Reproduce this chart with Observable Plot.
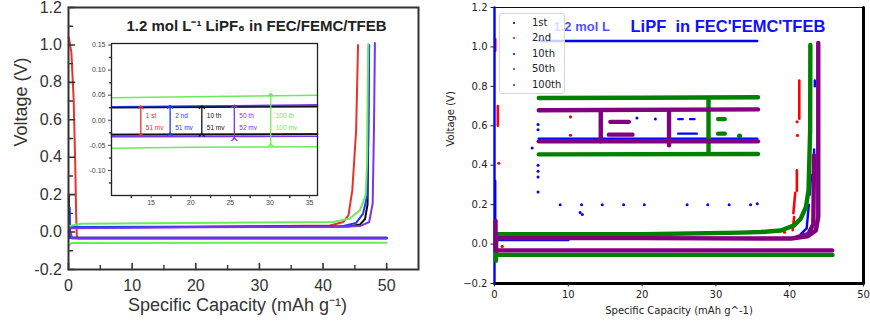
<!DOCTYPE html>
<html><head><meta charset="utf-8">
<script src="https://cdn.jsdelivr.net/npm/d3@7"></script>
<script src="https://cdn.jsdelivr.net/npm/@observablehq/plot@0.6"></script>
<style>
html,body{margin:0;padding:0;background:#fff;}
#root{position:relative;width:870px;height:323px;overflow:hidden;background:#fff;}
.abs{position:absolute;}
</style></head><body><div id="root"></div>
<script>
// ================= DATA =================
// ---- left panel (published figure): cycles and polylines (x: mAh/g, y: V)
const leftCycles = ["1 st", "2 nd", "10 th", "50 th", "100 th"];
const leftCycle1 = [
  [[0.05,1.04],[0.45,0.96],[0.8,0.72],[1.05,0.38],[1.2,0.1],[1.3,-0.02],[1.5,-0.035],[50,-0.035]],
  [[0.3,0.025],[20,0.027],[41.1,0.035],[43.2,0.054],[44.0,0.09],[44.6,0.224],[45.2,0.544],[45.5,1.0]]
];
const leftCycle2 = [
  [[0.2,0.13],[0.25,-0.03],[50,-0.03]],
  [[0.3,0.027],[43.2,0.032],[45.2,0.049],[46.3,0.099],[46.9,0.19],[47.1,0.5],[47.25,1.0]]
];
const leftCycle10 = [
  [[0.05,0.2],[0.1,-0.03],[50,-0.031]],
  [[0.3,0.026],[44,0.03],[45.8,0.04],[46.6,0.07],[47.0,0.15],[47.1,0.5],[47.2,0.98]]
];
const leftCycle50 = [
  [[0.3,0.0],[0.6,-0.035],[50,-0.034]],
  [[0.2,0.02],[20,0.026],[42.7,0.028],[45.8,0.032],[47.25,0.054],[47.8,0.153],[48.0,0.544],[48.15,1.01]]
];
const leftCycle100 = [
  [[0.1,-0.07],[0.5,-0.058],[50,-0.057]],
  [[0.1,0.033],[2,0.045],[41.6,0.054],[44.2,0.072],[45.8,0.117],[46.7,0.197],[46.9,0.366],[47.1,1.004]]
];
const leftXTicks = [0, 10, 20, 30, 40, 50];
const leftXMinor = [5, 15, 25, 35, 45];
const leftYTicks = [-0.2, 0, 0.2, 0.4, 0.6, 0.8, 1.0, 1.2];
const leftYMinor = [-0.1, 0.1, 0.3, 0.5, 0.7, 0.9, 1.1];
const leftTitle = "1.2 mol L\u207B\u00B9 LiPF\u2086 in FEC/FEMC/TFEB";
const leftXLabel = "Specific Capacity (mAh g\u207B\u00B9)";
const leftYLabel = "Voltage (V)";

// ---- inset (zoom of the plateau)
const insetCycle1 = [[[10,0.027],[36,0.029]], [[10,-0.029],[36,-0.028]]];
const insetCycle2 = [[[10,0.027],[36,0.028]], [[10,-0.028],[36,-0.027]]];
const insetCycle10 = [[[10,0.025],[36,0.027]], [[10,-0.029],[36,-0.028]]];
const insetCycle50 = [[[10,0.026],[36,0.031]], [[10,-0.033],[36,-0.032]]];
const insetCycle100 = [[[10,0.045],[20,0.047],[36,0.05]], [[10,-0.056],[20,-0.054],[36,-0.053]]];
const insetGapLabels = ["51 mv", "51 mv", "51 mv", "52 mv", "100 mv"];
const insetArrowX = [13.7, 17.4, 21.4, 25.5, 30.1];
const insetArrowLow = [-0.029, -0.028, -0.029, -0.038, -0.05];
const insetArrowHigh = [0.026, 0.027, 0.026, 0.028, 0.051];
const insetXTicks = [15, 20, 25, 30, 35];
const insetXMinor = [12.5, 17.5, 22.5, 27.5, 32.5];
const insetYTicks = [-0.10, -0.05, 0, 0.05, 0.10, 0.15];
const insetYMinor = [-0.125, -0.075, -0.025, 0.025, 0.075, 0.125];

// ---- right panel (digitized scatter): series and traced point runs
const rightSeries = ["1st", "2nd", "10th", "50th", "100th"];
const right1st = [
  [[0,-0.2],[50,-0.2],[50,1.2]]
];
const right2nd = [
  [[0.1,1.04],[0.1,0.98]], [[0.45,0.70],[0.45,0.60]], [[0.58,0.41]], [[1.04,-0.012]],
  [[10.3,0.645]], [[10.3,0.552]],
  [[41.3,0.83],[41.3,0.636]], [[41.0,0.62]], [[41.05,0.551]],
  [[40.97,0.374],[40.97,0.27]], [[40.75,0.26],[40.5,0.157]], [[40.6,0.137],[40.4,0.07]], [[39.3,0.06]]
];
const right10th = [
  [[0,-0.2],[0,1.2]], [[0.1,0.32],[0.1,0.0]],
  [[6,1.03],[35.6,1.03]], [[6,0.535],[35.6,0.535]], [[0.5,0.02],[10,0.02]],
  [[41.5,0.05],[42.3,0.08],[42.6,0.2]], [[42.7,0.25],[42.9,0.35]], [[43.3,0.42],[43.3,0.48]], [[43.4,0.8],[43.4,0.83]],
  [[5.9,0.606]], [[5.9,0.58]], [[5.9,0.40]], [[5.9,0.37]], [[5.9,0.34]], [[5.9,0.264]], [[5.1,0.487]],
  [[8.9,0.2]], [[11.8,0.2]], [[14.6,0.2]], [[17.5,0.2]], [[20.3,0.2]], [[26.1,0.2]], [[28.9,0.2]],
  [[31.8,0.2]], [[34.7,0.2]], [[35.6,0.205]], [[11.6,0.16]], [[11.9,0.15]],
  [[19.3,0.64]], [[21.8,0.634]], [[14.4,0.65],[14.4,0.55]],
  [[24.9,0.634],[25.5,0.634]], [[26.5,0.634],[27.1,0.634]], [[24.9,0.56],[27.4,0.56]]
];
const right50th = [
  [[6,0.741],[20,0.742],[35.7,0.745]], [[6,0.455],[35.7,0.457]], [[29,0.741],[29,0.46]],
  [[0.2,-0.085],[0.25,0.05]],
  [[0.3,0.05],[20,0.05],[33.4,0.058],[36.1,0.061],[38.8,0.069],[40.6,0.095],[41.5,0.129],[42.2,0.188],[42.55,0.273],[42.77,0.577],[42.8,1.01]],
  [[0.5,-0.055],[45.8,-0.055]],
  [[30.3,0.634],[31.2,0.634]], [[30.3,0.56],[31.2,0.56]], [[33.2,0.548]]
];
const right100th = [
  [[6,0.679],[35.7,0.683]], [[6,0.521],[35.7,0.521]], [[14.4,0.679],[14.4,0.521]], [[23.65,0.679],[23.65,0.501]],
  [[0.14,0.117],[0.14,-0.032]],
  [[0.3,0.03],[20,0.03],[40.2,0.028],[42.4,0.039],[43.55,0.069],[43.87,0.137],[43.87,1.02]],
  [[41,0.035],[42.5,0.05],[43.2,0.1],[43.3,0.45]],
  [[0.3,-0.032],[45.75,-0.032]],
  [[15.7,0.62],[18.2,0.62]], [[15.5,0.555],[18.7,0.555]]
];
const rightXTicks = [0, 10, 20, 30, 40, 50];
const rightYTicks = [-0.2, 0, 0.2, 0.4, 0.6, 0.8, 1.0, 1.2];
const rightTitle = "LiPF  in FEC'FEMC'TFEB";
const rightTitleLead = "1.2 mol L";
const rightXLabel = "Specific Capacity (mAh g^-1)";
const rightYLabel = "Voltage (V)";

// ================= HELPERS =================
function rowsOf(polys) {
  const out = [];
  polys.forEach((p, i) => p.forEach(([x, y]) => out.push({seg: i, x, y, n: p.length})));
  return out;
}
function trace(polys, color, width) {
  const r = rowsOf(polys);
  return [
    Plot.line(r.filter(d => d.n > 1), {x: "x", y: "y", z: "seg", stroke: color, strokeWidth: width, strokeLinecap: "round", strokeLinejoin: "round"}),
    Plot.dot(r.filter(d => d.n === 1), {x: "x", y: "y", r: width / 2 + 0.3, fill: color, stroke: "none"})
  ];
}
const tickUp = {draw(ctx, l) { ctx.moveTo(0, 0); ctx.lineTo(0, -l); }};
const tickIn = {draw(ctx, l) { ctx.moveTo(0, 0); ctx.lineTo(l, 0); }};
const tickDown = {draw(ctx, l) { ctx.moveTo(0, 0); ctx.lineTo(0, l); }};
const tickOut = {draw(ctx, l) { ctx.moveTo(0, 0); ctx.lineTo(-l, 0); }};

const root = document.getElementById("root");
const sansL = "'Liberation Sans', Arial, sans-serif";

// ================= LEFT PANEL =================
const leftColor = ["#e8322c", "#2238f0", "#111111", "#7a34ee", "#6cea5c"];
const leftPlot = Plot.plot({
  width: 435, height: 323,
  marginLeft: 68, marginRight: 17, marginTop: 7, marginBottom: 54,
  x: {domain: [0, 55]}, y: {domain: [-0.2, 1.2]},
  style: {fontFamily: sansL, color: "#333", background: "white", overflow: "visible"},
  marks: [
    ...trace(leftCycle1, leftColor[0], 2),
    ...trace(leftCycle10, leftColor[2], 2),
    ...trace(leftCycle2, leftColor[1], 2),
    ...trace(leftCycle100, leftColor[4], 2),
    ...trace(leftCycle50, leftColor[3], 2),
    Plot.frame({stroke: "#333", strokeWidth: 2}),
    Plot.vector(leftXTicks, {x: d => d, frameAnchor: "bottom", length: 6, shape: tickUp, anchor: "start", stroke: "#333", strokeWidth: 1.6}),
    Plot.vector(leftXMinor, {x: d => d, frameAnchor: "bottom", length: 4, shape: tickUp, anchor: "start", stroke: "#333", strokeWidth: 1.4}),
    Plot.vector(leftYTicks, {y: d => d, frameAnchor: "left", length: 6, shape: tickIn, anchor: "start", stroke: "#333", strokeWidth: 1.6}),
    Plot.vector(leftYMinor, {y: d => d, frameAnchor: "left", length: 4, shape: tickIn, anchor: "start", stroke: "#333", strokeWidth: 1.4}),
    Plot.axisX(leftXTicks, {tickSize: 0, tickPadding: 10, fontSize: 16, label: null, tickFormat: d => String(d), fill: "#333"}),
    Plot.axisY(leftYTicks, {tickSize: 0, tickPadding: 6.6, fontSize: 16, label: null, tickFormat: d => d.toFixed(1), fill: "#333"}),
    Plot.text([leftTitle], {text: d => d, frameAnchor: "top", lineAnchor: "middle", dx: 13, dy: 19, fontSize: 15, fontWeight: "bold", fill: "#222"}),
    Plot.text([leftYLabel], {text: d => d, frameAnchor: "left", lineAnchor: "middle", dx: -47, dy: 8, rotate: -90, fontSize: 18, fill: "#333"}),
    Plot.text([leftXLabel], {text: d => d, frameAnchor: "bottom", lineAnchor: "middle", dx: -6, dy: 36, fontSize: 18, fill: "#333"})
  ]
});
leftPlot.classList.add("abs");
leftPlot.style.left = "0px"; leftPlot.style.top = "0px";
root.appendChild(leftPlot);

// ---- inset
const insetRows = leftCycles.map((c, i) => ({c, i, x: insetArrowX[i], lo: insetArrowLow[i], hi: insetArrowHigh[i], gap: insetGapLabels[i]}));
const insetPlot = Plot.plot({
  width: 240, height: 176,
  marginLeft: 29, marginRight: 5, marginTop: 7, marginBottom: 17,
  x: {domain: [10, 36]}, y: {domain: [-0.15, 0.153]},
  style: {fontFamily: sansL, fontSize: "7px", color: "#444", background: "transparent", overflow: "visible"},
  marks: [
    Plot.frame({fill: "white", stroke: "none"}),
    ...trace(insetCycle100, leftColor[4], 1.5),
    ...trace(insetCycle1, leftColor[0], 1.5),
    ...trace(insetCycle50, leftColor[3], 1.5),
    ...trace(insetCycle2, leftColor[1], 1.5),
    ...trace(insetCycle10, leftColor[2], 1.5),
    Plot.link(insetRows, {x1: "x", x2: "x", y1: "lo", y2: "hi", stroke: d => leftColor[d.i], strokeWidth: 1.3, markerStart: "arrow", markerEnd: "arrow"}),
    Plot.text(insetRows, {x: "x", y: 0, text: "c", dx: 5, dy: -4, textAnchor: "start", fontSize: 6.5, fill: d => leftColor[d.i]}),
    Plot.text(insetRows, {x: "x", y: 0, text: "gap", dx: 5, dy: 8, textAnchor: "start", fontSize: 6.5, fill: d => leftColor[d.i]}),
    Plot.frame({stroke: "#222", strokeWidth: 1.3}),
    Plot.vector(insetXMinor, {x: d => d, frameAnchor: "bottom", length: 2, shape: tickDown, anchor: "start", stroke: "#333"}),
    Plot.vector(insetYMinor, {y: d => d, frameAnchor: "left", length: 2, shape: tickOut, anchor: "start", stroke: "#333"}),
    Plot.axisX(insetXTicks, {tickSize: 3, tickPadding: 2, label: null, tickFormat: d => String(d), fill: "#444"}),
    Plot.axisY(insetYTicks, {tickSize: 3, tickPadding: 3, label: null, tickFormat: d => d.toFixed(2), fill: "#444"})
  ]
});
insetPlot.classList.add("abs");
insetPlot.style.left = "82px"; insetPlot.style.top = "36px";
root.appendChild(insetPlot);

// ================= RIGHT PANEL =================
const rightColor = ["#000000", "#ff0000", "#0000ff", "#008000", "#800080"];
const rightPlot = Plot.plot({
  width: 435, height: 323,
  marginLeft: 59, marginRight: 7, marginTop: 7, marginBottom: 40,
  x: {domain: [0, 50]}, y: {domain: [-0.2, 1.2]},
  style: {fontFamily: "'DejaVu Sans', sans-serif", fontSize: "10px", color: "#222", background: "white", overflow: "visible"},
  marks: [
    Plot.frame({stroke: "#111", strokeWidth: 1}),
    ...trace(right1st, rightColor[0], 3),
    ...trace(right2nd, rightColor[1], 2.6),
    ...trace(right10th, rightColor[2], 2.4),
    ...trace(right50th, rightColor[3], 4.4),
    ...trace(right100th, rightColor[4], 4.4),
    Plot.text([rightTitleLead], {text: d => d, frameAnchor: "top-left", dx: 59, dy: 19, textAnchor: "start", lineAnchor: "middle", fontFamily: sansL, fontSize: 13, fontWeight: "bold", fill: "#1010ff", fillOpacity: 0.75}),
    Plot.text([rightTitle], {text: d => d, frameAnchor: "top-left", dx: 136, dy: 19, textAnchor: "start", lineAnchor: "middle", fontFamily: sansL, fontSize: 16.5, fontWeight: "bold", fill: "#1010ff"}),
    Plot.axisX(rightXTicks, {tickSize: 3.5, tickPadding: 3.5, label: null, tickFormat: d => String(d), fill: "#222", stroke: "#222"}),
    Plot.axisY(rightYTicks, {tickSize: 3.5, tickPadding: 3.5, label: null, tickFormat: d3.format(".1f"), fill: "#222", stroke: "#222"}),
    Plot.text([rightYLabel], {text: d => d, frameAnchor: "left", lineAnchor: "middle", dx: -44, dy: 1, rotate: -90, fill: "#222"}),
    Plot.text([rightXLabel], {text: d => d, frameAnchor: "bottom", lineAnchor: "middle", dy: 27, fill: "#222"})
  ]
});
rightPlot.classList.add("abs");
rightPlot.style.left = "435px"; rightPlot.style.top = "0px";
root.appendChild(rightPlot);

// ---- legend (inside the right axes, semi-transparent box)
const legend = document.createElement("div");
legend.className = "abs";
Object.assign(legend.style, {left: "499px", top: "13px", width: "66px", height: "81px", background: "rgba(255,255,255,0.8)",
  border: "1px solid #d6d6d6", borderRadius: "3px", boxSizing: "border-box", fontFamily: "'DejaVu Sans', sans-serif", fontSize: "10px", color: "#222"});
rightSeries.forEach((name, i) => {
  const row = document.createElement("div");
  Object.assign(row.style, {position: "absolute", left: "0px", top: (8.5 + i * 15.6 - 7) + "px", height: "14px", width: "64px"});
  const dot = document.createElement("span");
  Object.assign(dot.style, {position: "absolute", left: "13px", top: "6px", width: "2px", height: "2px", borderRadius: "1px", background: rightColor[i]});
  const lab = document.createElement("span");
  Object.assign(lab.style, {position: "absolute", left: "32px", top: "0px", lineHeight: "14px"});
  lab.textContent = name;
  row.appendChild(dot); row.appendChild(lab);
  legend.appendChild(row);
});
root.appendChild(legend);
</script>
</body></html>
